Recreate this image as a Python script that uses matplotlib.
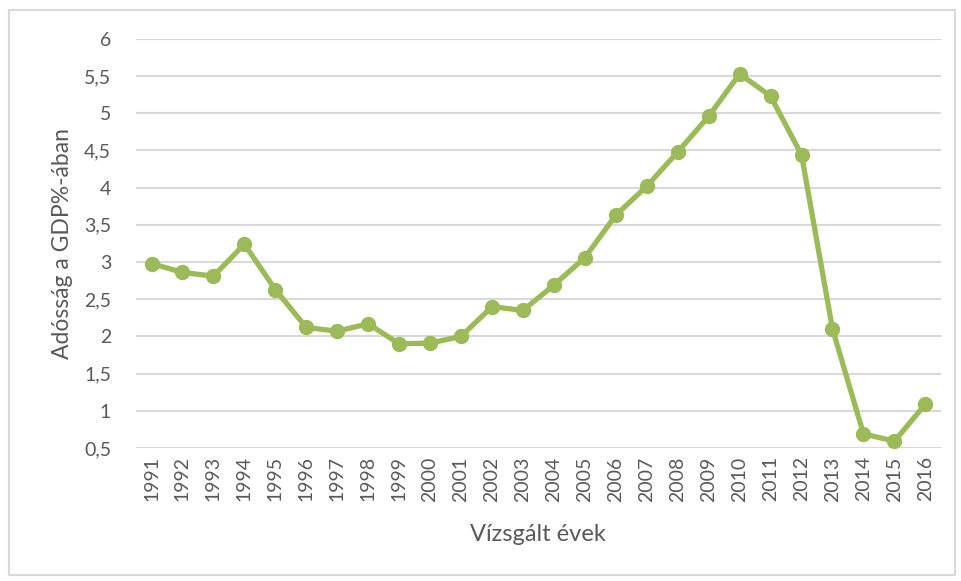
import matplotlib
matplotlib.use('Agg')
import matplotlib.pyplot as plt
from matplotlib.patches import Rectangle
from matplotlib.ticker import FuncFormatter

plt.rcParams['font.family'] = ['Lato', 'DejaVu Sans']

years = [str(y) for y in range(1991, 2017)]
debt = [2.98, 2.86, 2.81, 3.24, 2.63, 2.12, 2.07, 2.17, 1.90, 1.91, 2.00,
        2.40, 2.35, 2.69, 3.06, 3.63, 4.02, 4.48, 4.96, 5.53, 5.23, 4.44,
        2.10, 0.69, 0.59, 1.09]
y_ticks = [0.5, 1, 1.5, 2, 2.5, 3, 3.5, 4, 4.5, 5, 5.5, 6]

green = '#9BBB59'
grey_text = '#595959'

fig = plt.figure(figsize=(9.62, 5.81), dpi=100)
ax = fig.add_axes([0.1414, 0.229, 0.8366, 0.704])

x = range(len(years))
ax.plot(x, debt, color=green, linewidth=3.8, marker='o', markersize=10,
        solid_capstyle='round', solid_joinstyle='round', zorder=3)

ax.set_xlim(-0.5, len(years) - 0.5)
ax.set_ylim(0.5, 6)
ax.set_yticks(y_ticks)
ax.yaxis.set_major_formatter(FuncFormatter(
    lambda v, _: ('%g' % v).replace('.', ',')))
ax.set_xticks(list(x))
ax.set_xticklabels(years, rotation=90)

ax.grid(axis='y', color='#D9D9D9', linewidth=1.5)
ax.set_axisbelow(True)
for s in ax.spines.values():
    s.set_visible(False)
ax.tick_params(length=0, colors=grey_text, labelsize=14)
ax.tick_params(axis='y', pad=18)
ax.tick_params(axis='x', pad=6)

ax.set_xlabel('Vízsgált évek', color=grey_text, fontsize=17, labelpad=16)
ax.set_ylabel('Adósság a GDP%-ában', color=grey_text, fontsize=16.5, labelpad=8)

fig.patches.append(Rectangle((0.009, 0.01), 0.984, 0.972, transform=fig.transFigure,
                             fill=False, edgecolor='#D9D9D9', linewidth=1.5))

fig.savefig('out.png', dpi=100)
